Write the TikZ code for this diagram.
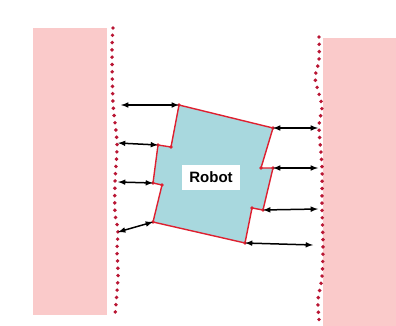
\documentclass[tikz,border=0pt]{standalone}
\usepackage{fontspec}
\setmainfont{Liberation Sans}
\usepackage[rgb]{xcolor}
\usepackage{tikz}
\usetikzlibrary{arrows}
\usetikzlibrary{positioning,calc}

\definecolor{wallpink}{RGB}{250,202,202}
\definecolor{walldot}{RGB}{185,22,52}
\definecolor{robotred}{RGB}{222,32,48}
\definecolor{robotfill}{RGB}{168,216,222}

\tikzset{
  wall/.style={walldot, line width=3.9pt, line cap=round, dash pattern=on 0pt off 7.3pt},
  gap/.style={line width=1.5pt, <->},
  corner/.style={robotred, fill=robotred}
}

\begin{document}
\begin{tikzpicture}[>=latex, x=1pt, y=-1pt]
			\useasboundingbox (0,0) rectangle (396,326);
			\fill[wallpink] (33,28) rectangle (107,315);
			\fill[wallpink] (323,38) rectangle (396,326);
			\draw[wall] plot[smooth] coordinates {(113,28) (112,50) (113,103) (117,143) (115,182) (115,213) (118,230) (117,250) (118,277) (115,315)};
			\draw[wall] plot[smooth] coordinates {(319,37) (319,60) (315,77) (317,87) (322,107) (319,127) (322,167) (322,208) (323,245) (322,277) (318,300) (319,320)};
			% robot outline
			\coordinate (tl) at (179,105);
			\coordinate (tr) at (273,128);
			\coordinate (r1) at (261,168);
			\coordinate (r2) at (273,168);
			\coordinate (r3) at (263,210);
			\coordinate (r4) at (252,208);
			\coordinate (br) at (245,243);
			\coordinate (bl) at (153,222);
			\coordinate (l1) at (162,185);
			\coordinate (l2) at (153,183);
			\coordinate (l3) at (158,145);
			\coordinate (l4) at (171,147);
			\draw[robotred, fill=robotfill, line width=1.4pt, line join=round] (tl) -- (tr) -- (r1) -- (r2) -- (r3) -- (r4) -- (br) -- (bl) -- (l1) -- (l2) -- (l3) -- (l4) -- cycle;
			\foreach \c in {tl,tr,r1,r2,r3,r4,br,bl,l1,l2,l3,l4}
				\fill[corner] (\c) circle (1.8pt);
			\node[fill=white, font=\bfseries\fontsize{15}{15}\selectfont, minimum width=58pt, minimum height=25pt, inner sep=0pt] (robot) at (211,177) {Robot};
			% distances to the walls
			\coordinate (wl1) at (121,105);
			\coordinate (wl2) at (118,143);
			\coordinate (wl3) at (118,182);
			\coordinate (wl4) at (118,232);
			\coordinate (wr1) at (318,128);
			\coordinate (wr2) at (318,168);
			\coordinate (wr3) at (318,209);
			\coordinate (wr4) at (313,245);
			\draw[gap] (wl1) -- (tl);
			\draw[gap] (wl2) -- (l3);
			\draw[gap] (wl3) -- (l2);
			\draw[gap] (wl4) -- (bl);
			\draw[gap] (tr) -- (wr1);
			\draw[gap] (r2) -- (wr2);
			\draw[gap] (r3) -- (wr3);
			\draw[gap] (br) -- (wr4);
			\end{tikzpicture}
\end{document}
